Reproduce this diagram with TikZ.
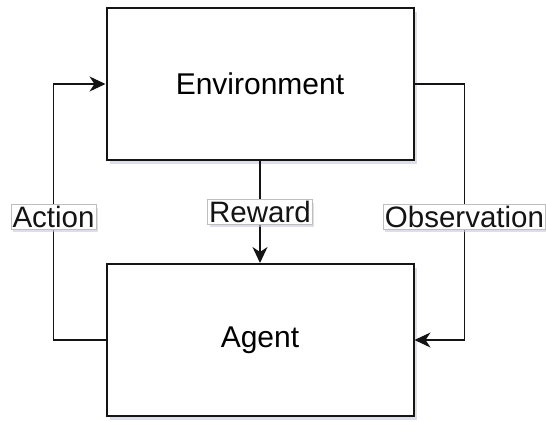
\documentclass[tikz,border=0pt]{standalone}
\usepackage{fontspec}
\setmainfont{Liberation Sans}
\usepackage{tikz}
\usetikzlibrary{arrows.meta, positioning, shadows}
\definecolor{mydark}{RGB}{20,20,20}
\definecolor{myshadow}{RGB}{200,200,220}
\definecolor{lblframe}{RGB}{190,190,190}
\tikzset{
  block/.style={rectangle, draw=mydark, fill=white, line width=2pt,
    minimum width=307pt, minimum height=152pt, font=\fontsize{30}{34}\selectfont,
    drop shadow={shadow xshift=3pt, shadow yshift=-4pt, fill=myshadow, opacity=0.6}},
  lbl/.style={rectangle, draw=lblframe, fill=white, line width=0.6pt,
    inner sep=1.5pt, font=\fontsize{29.5}{32}\selectfont, text=mydark,
    drop shadow={shadow xshift=2pt, shadow yshift=-3pt, fill=myshadow, opacity=0.6}},
  arrow/.style={-{Stealth[length=16pt, width=15pt, inset=5pt]}, line width=1.6pt, color=mydark}
}
\begin{document}
\begin{tikzpicture}[x=1pt, y=-1pt]
  \useasboundingbox (0,0) rectangle (546,421);
  % --- Boxes ---
  \node[block] (env) at (260, 84) {Environment};
  \node[block] (agent) at (260, 340) {Agent};

  % --- Loop ---
  \draw[arrow] (agent.west) -- ++(-52,0) |- node[lbl, pos=0.24] {Action} (env.west);
  \draw[arrow] (env.south) -- node[lbl, pos=0.5] {Reward} (agent.north);
  \draw[arrow] (env.east) -- ++(50,0) |- node[lbl, pos=0.26] {Observation} (agent.east);
\end{tikzpicture}
\end{document}
